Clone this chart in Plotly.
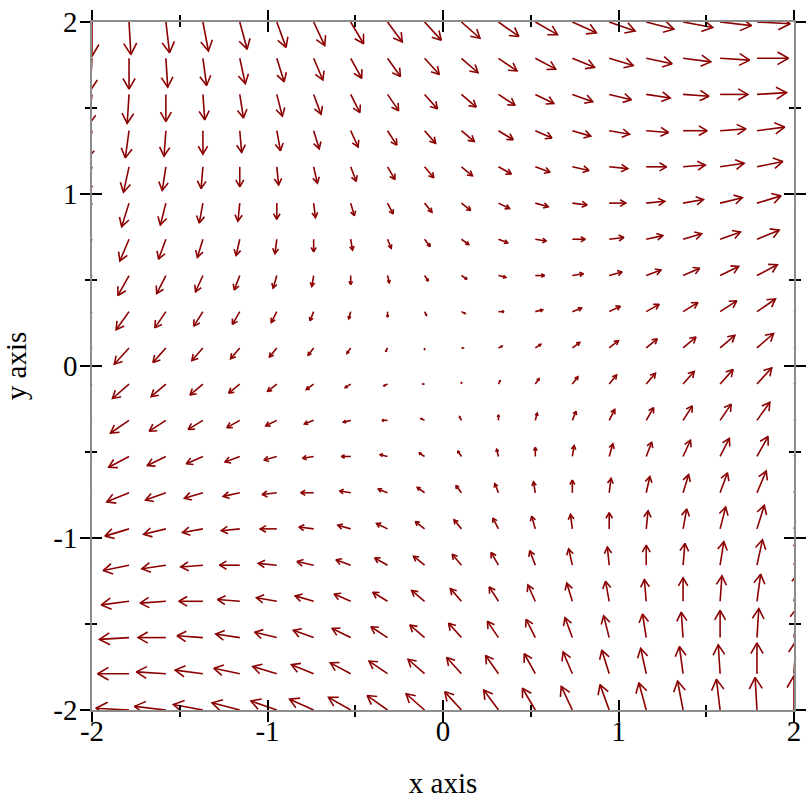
import math
import plotly.graph_objects as go

# Sample grid (20 samples from -2 to 2 on each axis)
X_SAMPLES = [-2.000, -1.789, -1.579, -1.368, -1.158, -0.947, -0.737, -0.526, -0.316, -0.105,
             0.105, 0.316, 0.526, 0.737, 0.947, 1.158, 1.368, 1.579, 1.789, 2.000]
Y_SAMPLES = [-2.000, -1.789, -1.579, -1.368, -1.158, -0.947, -0.737, -0.526, -0.316, -0.105,
             0.105, 0.316, 0.526, 0.737, 0.947, 1.158, 1.368, 1.579, 1.789, 2.000]

# Vector x-components, one row per y sample (bottom row first)
U_ROWS = [
    [-4.00, -3.79, -3.58, -3.37, -3.16, -2.95, -2.74, -2.53, -2.32, -2.11, -1.89, -1.68, -1.47, -1.26, -1.05, -0.84, -0.63, -0.42, -0.21, 0.00],
    [-3.79, -3.58, -3.37, -3.16, -2.95, -2.74, -2.53, -2.32, -2.11, -1.89, -1.68, -1.47, -1.26, -1.05, -0.84, -0.63, -0.42, -0.21, 0.00, 0.21],
    [-3.58, -3.37, -3.16, -2.95, -2.74, -2.53, -2.32, -2.11, -1.89, -1.68, -1.47, -1.26, -1.05, -0.84, -0.63, -0.42, -0.21, 0.00, 0.21, 0.42],
    [-3.37, -3.16, -2.95, -2.74, -2.53, -2.32, -2.11, -1.89, -1.68, -1.47, -1.26, -1.05, -0.84, -0.63, -0.42, -0.21, 0.00, 0.21, 0.42, 0.63],
    [-3.16, -2.95, -2.74, -2.53, -2.32, -2.11, -1.89, -1.68, -1.47, -1.26, -1.05, -0.84, -0.63, -0.42, -0.21, 0.00, 0.21, 0.42, 0.63, 0.84],
    [-2.95, -2.74, -2.53, -2.32, -2.11, -1.89, -1.68, -1.47, -1.26, -1.05, -0.84, -0.63, -0.42, -0.21, 0.00, 0.21, 0.42, 0.63, 0.84, 1.05],
    [-2.74, -2.53, -2.32, -2.11, -1.89, -1.68, -1.47, -1.26, -1.05, -0.84, -0.63, -0.42, -0.21, 0.00, 0.21, 0.42, 0.63, 0.84, 1.05, 1.26],
    [-2.53, -2.32, -2.11, -1.89, -1.68, -1.47, -1.26, -1.05, -0.84, -0.63, -0.42, -0.21, 0.00, 0.21, 0.42, 0.63, 0.84, 1.05, 1.26, 1.47],
    [-2.32, -2.11, -1.89, -1.68, -1.47, -1.26, -1.05, -0.84, -0.63, -0.42, -0.21, 0.00, 0.21, 0.42, 0.63, 0.84, 1.05, 1.26, 1.47, 1.68],
    [-2.11, -1.89, -1.68, -1.47, -1.26, -1.05, -0.84, -0.63, -0.42, -0.21, 0.00, 0.21, 0.42, 0.63, 0.84, 1.05, 1.26, 1.47, 1.68, 1.89],
    [-1.89, -1.68, -1.47, -1.26, -1.05, -0.84, -0.63, -0.42, -0.21, 0.00, 0.21, 0.42, 0.63, 0.84, 1.05, 1.26, 1.47, 1.68, 1.89, 2.11],
    [-1.68, -1.47, -1.26, -1.05, -0.84, -0.63, -0.42, -0.21, 0.00, 0.21, 0.42, 0.63, 0.84, 1.05, 1.26, 1.47, 1.68, 1.89, 2.11, 2.32],
    [-1.47, -1.26, -1.05, -0.84, -0.63, -0.42, -0.21, 0.00, 0.21, 0.42, 0.63, 0.84, 1.05, 1.26, 1.47, 1.68, 1.89, 2.11, 2.32, 2.53],
    [-1.26, -1.05, -0.84, -0.63, -0.42, -0.21, 0.00, 0.21, 0.42, 0.63, 0.84, 1.05, 1.26, 1.47, 1.68, 1.89, 2.11, 2.32, 2.53, 2.74],
    [-1.05, -0.84, -0.63, -0.42, -0.21, 0.00, 0.21, 0.42, 0.63, 0.84, 1.05, 1.26, 1.47, 1.68, 1.89, 2.11, 2.32, 2.53, 2.74, 2.95],
    [-0.84, -0.63, -0.42, -0.21, 0.00, 0.21, 0.42, 0.63, 0.84, 1.05, 1.26, 1.47, 1.68, 1.89, 2.11, 2.32, 2.53, 2.74, 2.95, 3.16],
    [-0.63, -0.42, -0.21, 0.00, 0.21, 0.42, 0.63, 0.84, 1.05, 1.26, 1.47, 1.68, 1.89, 2.11, 2.32, 2.53, 2.74, 2.95, 3.16, 3.37],
    [-0.42, -0.21, 0.00, 0.21, 0.42, 0.63, 0.84, 1.05, 1.26, 1.47, 1.68, 1.89, 2.11, 2.32, 2.53, 2.74, 2.95, 3.16, 3.37, 3.58],
    [-0.21, 0.00, 0.21, 0.42, 0.63, 0.84, 1.05, 1.26, 1.47, 1.68, 1.89, 2.11, 2.32, 2.53, 2.74, 2.95, 3.16, 3.37, 3.58, 3.79],
    [0.00, 0.21, 0.42, 0.63, 0.84, 1.05, 1.26, 1.47, 1.68, 1.89, 2.11, 2.32, 2.53, 2.74, 2.95, 3.16, 3.37, 3.58, 3.79, 4.00],
]

# Vector y-components, one row per y sample (bottom row first)
V_ROWS = [
    [0.00, 0.21, 0.42, 0.63, 0.84, 1.05, 1.26, 1.47, 1.68, 1.89, 2.11, 2.32, 2.53, 2.74, 2.95, 3.16, 3.37, 3.58, 3.79, 4.00],
    [-0.21, 0.00, 0.21, 0.42, 0.63, 0.84, 1.05, 1.26, 1.47, 1.68, 1.89, 2.11, 2.32, 2.53, 2.74, 2.95, 3.16, 3.37, 3.58, 3.79],
    [-0.42, -0.21, 0.00, 0.21, 0.42, 0.63, 0.84, 1.05, 1.26, 1.47, 1.68, 1.89, 2.11, 2.32, 2.53, 2.74, 2.95, 3.16, 3.37, 3.58],
    [-0.63, -0.42, -0.21, 0.00, 0.21, 0.42, 0.63, 0.84, 1.05, 1.26, 1.47, 1.68, 1.89, 2.11, 2.32, 2.53, 2.74, 2.95, 3.16, 3.37],
    [-0.84, -0.63, -0.42, -0.21, 0.00, 0.21, 0.42, 0.63, 0.84, 1.05, 1.26, 1.47, 1.68, 1.89, 2.11, 2.32, 2.53, 2.74, 2.95, 3.16],
    [-1.05, -0.84, -0.63, -0.42, -0.21, 0.00, 0.21, 0.42, 0.63, 0.84, 1.05, 1.26, 1.47, 1.68, 1.89, 2.11, 2.32, 2.53, 2.74, 2.95],
    [-1.26, -1.05, -0.84, -0.63, -0.42, -0.21, 0.00, 0.21, 0.42, 0.63, 0.84, 1.05, 1.26, 1.47, 1.68, 1.89, 2.11, 2.32, 2.53, 2.74],
    [-1.47, -1.26, -1.05, -0.84, -0.63, -0.42, -0.21, 0.00, 0.21, 0.42, 0.63, 0.84, 1.05, 1.26, 1.47, 1.68, 1.89, 2.11, 2.32, 2.53],
    [-1.68, -1.47, -1.26, -1.05, -0.84, -0.63, -0.42, -0.21, 0.00, 0.21, 0.42, 0.63, 0.84, 1.05, 1.26, 1.47, 1.68, 1.89, 2.11, 2.32],
    [-1.89, -1.68, -1.47, -1.26, -1.05, -0.84, -0.63, -0.42, -0.21, 0.00, 0.21, 0.42, 0.63, 0.84, 1.05, 1.26, 1.47, 1.68, 1.89, 2.11],
    [-2.11, -1.89, -1.68, -1.47, -1.26, -1.05, -0.84, -0.63, -0.42, -0.21, 0.00, 0.21, 0.42, 0.63, 0.84, 1.05, 1.26, 1.47, 1.68, 1.89],
    [-2.32, -2.11, -1.89, -1.68, -1.47, -1.26, -1.05, -0.84, -0.63, -0.42, -0.21, 0.00, 0.21, 0.42, 0.63, 0.84, 1.05, 1.26, 1.47, 1.68],
    [-2.53, -2.32, -2.11, -1.89, -1.68, -1.47, -1.26, -1.05, -0.84, -0.63, -0.42, -0.21, 0.00, 0.21, 0.42, 0.63, 0.84, 1.05, 1.26, 1.47],
    [-2.74, -2.53, -2.32, -2.11, -1.89, -1.68, -1.47, -1.26, -1.05, -0.84, -0.63, -0.42, -0.21, 0.00, 0.21, 0.42, 0.63, 0.84, 1.05, 1.26],
    [-2.95, -2.74, -2.53, -2.32, -2.11, -1.89, -1.68, -1.47, -1.26, -1.05, -0.84, -0.63, -0.42, -0.21, 0.00, 0.21, 0.42, 0.63, 0.84, 1.05],
    [-3.16, -2.95, -2.74, -2.53, -2.32, -2.11, -1.89, -1.68, -1.47, -1.26, -1.05, -0.84, -0.63, -0.42, -0.21, 0.00, 0.21, 0.42, 0.63, 0.84],
    [-3.37, -3.16, -2.95, -2.74, -2.53, -2.32, -2.11, -1.89, -1.68, -1.47, -1.26, -1.05, -0.84, -0.63, -0.42, -0.21, 0.00, 0.21, 0.42, 0.63],
    [-3.58, -3.37, -3.16, -2.95, -2.74, -2.53, -2.32, -2.11, -1.89, -1.68, -1.47, -1.26, -1.05, -0.84, -0.63, -0.42, -0.21, 0.00, 0.21, 0.42],
    [-3.79, -3.58, -3.37, -3.16, -2.95, -2.74, -2.53, -2.32, -2.11, -1.89, -1.68, -1.47, -1.26, -1.05, -0.84, -0.63, -0.42, -0.21, 0.00, 0.21],
    [-4.00, -3.79, -3.58, -3.37, -3.16, -2.95, -2.74, -2.53, -2.32, -2.11, -1.89, -1.68, -1.47, -1.26, -1.05, -0.84, -0.63, -0.42, -0.21, 0.00],
]

TICK_VALUES = [-2, -1, 0, 1, 2]
TICK_LABELS = ["-2", "-1", "0", "1", "2"]
X_TITLE = "x axis"
Y_TITLE = "y axis"

# ---- layout geometry ----
W, H = 812, 812
M_L, M_R, M_T, M_B = 92, 18, 22, 102
X_RANGE = [-2, 2]
Y_RANGE = [-2, 2]
px_x = (W - M_L - M_R) / (X_RANGE[1] - X_RANGE[0])
px_y = (H - M_T - M_B) / (Y_RANGE[1] - Y_RANGE[0])

# automatic arrow scale: largest component fits one sample box
n = len(X_SAMPLES)
box_x = (X_RANGE[1] - X_RANGE[0]) / n
box_y = (Y_RANGE[1] - Y_RANGE[0]) / n
du_max = max(abs(v) for row in U_ROWS for v in row)
dv_max = max(abs(v) for row in V_ROWS for v in row)
scale = min(box_x / du_max, box_y / dv_max)

ax, ay = [], []
head_frac = 0.4
head_ang = math.pi / 6
for j, y in enumerate(Y_SAMPLES):
    for i, x in enumerate(X_SAMPLES):
        u = U_ROWS[j][i] * scale
        v = V_ROWS[j][i] * scale
        x2, y2 = x + u, y + v
        ddx, ddy = u * px_x, v * px_y
        length = math.hypot(ddx, ddy)
        if length == 0:
            continue
        ang = math.atan2(ddy, ddx)
        hr = head_frac * length
        w1x = x2 - math.cos(ang + head_ang) * hr / px_x
        w1y = y2 - math.sin(ang + head_ang) * hr / px_y
        w2x = x2 - math.cos(ang - head_ang) * hr / px_x
        w2y = y2 - math.sin(ang - head_ang) * hr / px_y
        ax += [x, x2, None, w1x, x2, w2x, None]
        ay += [y, y2, None, w1y, y2, w2y, None]

fig = go.Figure()
fig.add_trace(go.Scatter(x=ax, y=ay, mode="lines",
                         line=dict(color="#8b0000", width=1.6),
                         hoverinfo="skip", showlegend=False))
fig.add_trace(go.Scatter(x=[None], y=[None], xaxis="x2", yaxis="y2",
                         mode="lines", hoverinfo="skip", showlegend=False))

FONT = dict(family="Liberation Serif, Times New Roman, serif", size=29, color="black")

common = dict(showgrid=False, zeroline=False, tickvals=TICK_VALUES, ticktext=TICK_LABELS,
              tickcolor="black", tickwidth=2, ticklen=10, automargin=False)

fig.update_layout(
    width=W, height=H,
    margin=dict(l=M_L, r=M_R, t=M_T, b=M_B, autoexpand=False),
    paper_bgcolor="white", plot_bgcolor="white",
    font=FONT,
    hovermode=False,
    xaxis=dict(range=X_RANGE, ticks="outside", mirror="allticks", showline=True,
               linecolor="#8c8c8c", linewidth=1.5, tickfont=FONT, ticklabelstandoff=-16,
               minor=dict(ticks="outside", ticklen=5, tickwidth=1.5, tickcolor="black", dtick=0.5, showgrid=False),
               title=dict(text=X_TITLE, font=FONT, standoff=27), **common),
    yaxis=dict(range=Y_RANGE, ticks="outside", mirror="allticks", showline=True,
               linecolor="#8c8c8c", linewidth=1.5, tickfont=FONT, ticklabelstandoff=-3,
               minor=dict(ticks="outside", ticklen=5, tickwidth=1.5, tickcolor="black", dtick=0.5, showgrid=False),
               title=dict(text=Y_TITLE, font=FONT, standoff=21), **common),
    xaxis2=dict(range=X_RANGE, overlaying="x", side="bottom", anchor="y2", ticks="inside",
                mirror="allticks", showline=False, showticklabels=False,
                minor=dict(ticks="inside", ticklen=5, tickwidth=1.5, tickcolor="black", dtick=0.5, showgrid=False),
                **common),
    yaxis2=dict(range=Y_RANGE, overlaying="y", side="left", anchor="x2", ticks="inside",
                mirror="allticks", showline=False, showticklabels=False,
                minor=dict(ticks="inside", ticklen=5, tickwidth=1.5, tickcolor="black", dtick=0.5, showgrid=False),
                **common),
)

fig.write_html("out.html", config={"displayModeBar": False},
               post_script="document.body.style.margin='0';")
